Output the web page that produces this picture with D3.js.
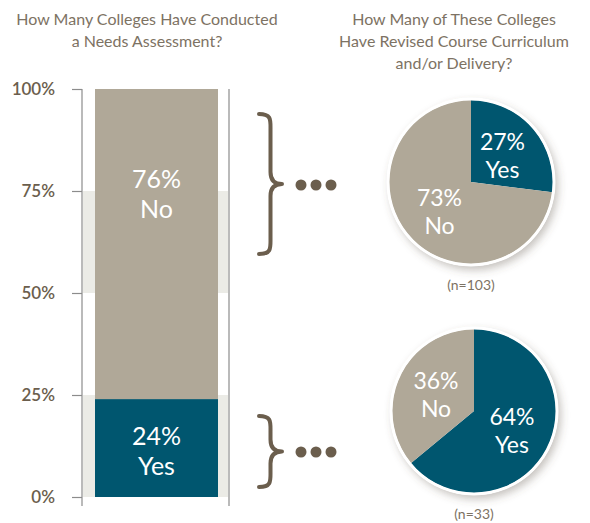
<!DOCTYPE html>
<html>
<head>
<meta charset="utf-8">
<script src="https://cdn.jsdelivr.net/npm/d3@7"></script>
<style>
  html, body { margin: 0; padding: 0; background: #ffffff; }
  svg { display: block; }
  text { font-family: Lato, "Open Sans", sans-serif; }
</style>
</head>
<body>
<svg id="chart" width="590" height="523"></svg>
<script>
// Stacked bar: colleges that conducted a needs assessment
const barCategories = ["Yes", "No"];
const barValues = [24, 76];
const yTicks = [0, 25, 50, 75, 100];

// Pies: colleges that revised curriculum and/or delivery
const pieCategories = ["Yes", "No"];
const pieAssessedValues = [27, 73];   // assessed colleges
const pieNotAssessedValues = [64, 36]; // colleges without an assessment
const pieSampleSizes = [103, 33];

const colors = { Yes: "#00566f", No: "#b0a898" };
const textBrown = "#6b5e4d";
const titleColor = "#7d7263";

const svg = d3.select("#chart");

// Drop shadow for pies
const defs = svg.append("defs");
const f = defs.append("filter").attr("id", "pieShadow")
  .attr("x", "-20%").attr("y", "-20%").attr("width", "150%").attr("height", "150%");
f.append("feDropShadow").attr("dx", 3).attr("dy", 4).attr("stdDeviation", 4)
  .attr("flood-color", "#5a4f45").attr("flood-opacity", 0.35);

// Titles
function title(lines, cx, y0, lh) {
  const t = svg.append("text").attr("text-anchor", "middle")
    .attr("fill", titleColor).style("font-size", "16px");
  lines.forEach((l, i) => t.append("tspan").attr("x", cx).attr("y", y0 + i * lh).text(l));
}
title(["How Many Colleges Have Conducted", "a Needs Assessment?"], 147, 25, 22);
title(["How Many of These Colleges", "Have Revised Course Curriculum", "and/or Delivery?"], 454, 25, 22);

// ---- Bar chart ----
const plotLeft = 82, plotRight = 229;
const y = d3.scaleLinear().domain([0, 100]).range([497, 89]);

// alternating bands
const bands = d3.pairs(yTicks);
svg.append("g").selectAll("rect").data(bands).join("rect")
  .attr("x", plotLeft + 1).attr("width", plotRight - plotLeft - 2)
  .attr("y", d => y(d[1])).attr("height", d => y(d[0]) - y(d[1]))
  .attr("fill", (d, i) => i % 2 === 0 ? "#ebebe6" : "#ffffff");

// frame verticals extending below the baseline
svg.append("g").selectAll("line").data([plotLeft, plotRight]).join("line")
  .attr("x1", d => d).attr("x2", d => d)
  .attr("y1", y(100)).attr("y2", y(0) + 9)
  .attr("stroke", "#8c8c8c").attr("stroke-width", 1.2);

// axis
const axis = svg.append("g").attr("transform", `translate(${plotLeft},0)`)
  .call(d3.axisLeft(y).tickValues(yTicks).tickFormat(d => d + "%").tickSize(10).tickPadding(17));
axis.select(".domain").remove();
axis.selectAll(".tick line").attr("stroke", "#8c8c8c").attr("stroke-width", 1.2);
axis.selectAll(".tick text").attr("fill", textBrown)
  .style("font-size", "17px").style("font-family", "Lato, sans-serif").style("font-weight", "600");

// stacked segments
const stackData = [];
let acc = 0;
barCategories.forEach((c, i) => {
  stackData.push({ cat: c, v: barValues[i], y0: acc, y1: acc + barValues[i] });
  acc += barValues[i];
});
const barX0 = 95, barX1 = 218;
svg.append("g").selectAll("rect").data(stackData).join("rect")
  .attr("x", barX0).attr("width", barX1 - barX0)
  .attr("y", d => y(d.y1)).attr("height", d => y(d.y0) - y(d.y1))
  .attr("fill", d => colors[d.cat]);

// segment labels (the tall "No" segment carries its label in its upper part)
const barLabelY = d => d.cat === "No" ? y(d.y1 - 25) : y((d.y0 + d.y1) / 2);
const bl = svg.append("g").selectAll("text").data(stackData).join("text")
  .attr("text-anchor", "middle").attr("fill", "#ffffff").style("font-size", "25px");
bl.append("tspan").attr("x", (barX0 + barX1) / 2).attr("y", d => barLabelY(d) - 3).text(d => d.v + "%");
bl.append("tspan").attr("x", (barX0 + barX1) / 2).attr("y", d => barLabelY(d) + 27).text(d => d.cat);

// ---- Braces with ellipses ----
function brace(top, bottom, x0, x1) {
  const mid = (top + bottom) / 2;
  const w = x1 - x0;
  const p = d3.path();
  p.moveTo(x0, top);
  p.bezierCurveTo(x0 + w * 0.55, top, x0 + w * 0.5, top + 6, x0 + w * 0.5, top + 16);
  p.lineTo(x0 + w * 0.5, mid - 12);
  p.bezierCurveTo(x0 + w * 0.5, mid - 3, x0 + w * 0.7, mid, x1, mid);
  p.bezierCurveTo(x0 + w * 0.7, mid, x0 + w * 0.5, mid + 3, x0 + w * 0.5, mid + 12);
  p.lineTo(x0 + w * 0.5, bottom - 16);
  p.bezierCurveTo(x0 + w * 0.5, bottom - 6, x0 + w * 0.55, bottom, x0, bottom);
  return p.toString();
}
const braces = [
  { top: 114, bottom: 254, dotsY: 185 },
  { top: 416, bottom: 487, dotsY: 452 }
];
braces.forEach(b => {
  svg.append("path").attr("d", brace(b.top, b.bottom, 259, 282))
    .attr("fill", "none").attr("stroke", textBrown).attr("stroke-width", 4)
    .attr("stroke-linecap", "round").attr("stroke-linejoin", "round");
  svg.append("g").selectAll("circle").data([0, 1, 2]).join("circle")
    .attr("cx", d => 301 + d * 15).attr("cy", b.dotsY).attr("r", 5.5).attr("fill", textBrown);
});

// ---- Pies ----
const pie = d3.pie().sort(null).value(d => d.v);
const R = 82;
const arc = d3.arc().innerRadius(0).outerRadius(R);
const labelArc = d3.arc().innerRadius(42).outerRadius(42);

const pies = [
  { cx: 471, cy: 182, values: pieAssessedValues, n: pieSampleSizes[0] },
  { cx: 474, cy: 411, values: pieNotAssessedValues, n: pieSampleSizes[1] }
];
pies.forEach(p => {
  const data = pieCategories.map((c, i) => ({ cat: c, v: p.values[i] }));
  const g = svg.append("g").attr("transform", `translate(${p.cx},${p.cy})`);
  g.append("circle").attr("r", R + 2).attr("fill", "#ffffff").attr("filter", "url(#pieShadow)");
  const arcs = pie(data);
  g.selectAll("path").data(arcs).join("path")
    .attr("d", arc).attr("fill", d => colors[d.data.cat]);
  g.append("circle").attr("r", R + 1).attr("fill", "none").attr("stroke", "#ffffff").attr("stroke-width", 3);
  const t = g.selectAll("text.lab").data(arcs).join("text").attr("class", "lab")
    .attr("text-anchor", "middle").attr("fill", "#ffffff").style("font-size", "23px");
  t.append("tspan").attr("x", d => labelArc.centroid(d)[0]).attr("y", d => labelArc.centroid(d)[1] - 4)
    .text(d => d.data.v + "%");
  t.append("tspan").attr("x", d => labelArc.centroid(d)[0]).attr("y", d => labelArc.centroid(d)[1] + 24)
    .text(d => d.data.cat);
  g.append("text").attr("text-anchor", "middle").attr("y", R + 26)
    .attr("fill", titleColor).style("font-size", "14px").text(`(n=${p.n})`);
});
</script>
</body>
</html>
